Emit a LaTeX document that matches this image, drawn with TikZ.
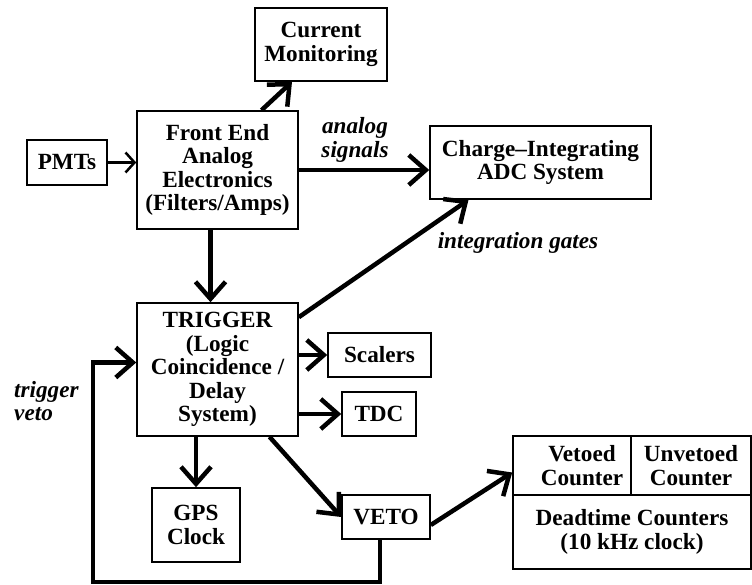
\documentclass[tikz,border=0pt]{standalone}
\usepackage{fontspec}
\setmainfont{Liberation Serif}
\usetikzlibrary{arrows.meta}

\begin{document}
\begin{tikzpicture}[x=1pt,y=1pt,>={Straight Barb[length=17pt,width=30pt]},
  blk/.style={draw,line width=1.6pt,align=center,inner sep=0pt,font=\fontsize{23.2}{23.5}\selectfont\bfseries},
  lbl/.style={inner sep=0pt,font=\fontsize{23.2}{23.5}\selectfont\bfseries\itshape},
  wire/.style={->,line width=4.5pt}]
\useasboundingbox (0,0) rectangle (752,-585);
% boxes
\node[blk,minimum width=132,minimum height=73] (cur) at (321,-44.5) {Current\\Monitoring};
\node[blk,minimum width=80,minimum height=45] (pmt) at (67,-162.5) {PMTs};
\node[blk,minimum width=161,minimum height=118] (fe) at (217.5,-170) {Front End\\Analog\\Electronics\\(Filters/Amps)};
\node[blk,minimum width=221,minimum height=73] (adc) at (540.5,-162.5) {Charge--Integrating\\ADC System};
\node[blk,minimum width=161,minimum height=133] (trig) at (217.5,-369.5) {TRIGGER\\(Logic\\Coincidence /\\Delay\\System)};
\node[blk,minimum width=103,minimum height=44] (scal) at (379.5,-355) {Scalers};
\node[blk,minimum width=74,minimum height=44] (tdc) at (379,-414) {TDC};
\node[blk,minimum width=88,minimum height=74] (gps) at (196,-525) {GPS\\Clock};
\node[blk,minimum width=88,minimum height=44] (veto) at (386,-517) {VETO};
\node[blk,minimum width=118,minimum height=59] (vetoed) at (572,-465.5) {\hspace*{20pt}Vetoed\\\hspace*{20pt}Counter};
\node[blk,minimum width=120,minimum height=59] (unvet) at (691,-465.5) {Unvetoed\\Counter};
\node[blk,minimum width=238,minimum height=74] (dead) at (632,-532) {Deadtime Counters\\(10 kHz clock)};
% labels
\node[lbl,align=center] (sig) at (355,-140) {analog\\signals};
\node[lbl] (gates) at (518,-243) {integration gates};
\node[lbl,align=left,anchor=west] (tv) at (14,-401) {trigger\\veto};
% connectors
\draw[->,line width=2.5pt,>={Straight Barb[length=9pt,width=20pt]}] (pmt.east) -- (pmt.east -| fe.west);
\draw[wire] ([xshift=44pt]fe.north) -- ([xshift=-29pt]cur.south);
\draw[wire] (fe.east) -- (fe.east -| adc.west);
\draw[wire] ([xshift=-7pt]fe.south) -- ([xshift=-7pt]trig.north);
\draw[wire] ([yshift=-15pt]trig.north east) -- ([xshift=-72pt]adc.south);
\draw[wire] (trig.east |- scal.west) -- (scal.west);
\draw[wire] (trig.east |- tdc.west) -- (tdc.west);
\draw[wire] (gps.north |- trig.south) -- (gps.north);
\draw[wire] ([xshift=52pt]trig.south) -- (veto.west);
\draw[wire] ([yshift=-8pt]veto.east) -- ([yshift=-7pt]vetoed.west);
\coordinate (ret) at (93,-582);
\draw[wire] ([xshift=-6pt]veto.south) |- (ret) |- ([yshift=7pt]trig.west);
\end{tikzpicture}
\end{document}
